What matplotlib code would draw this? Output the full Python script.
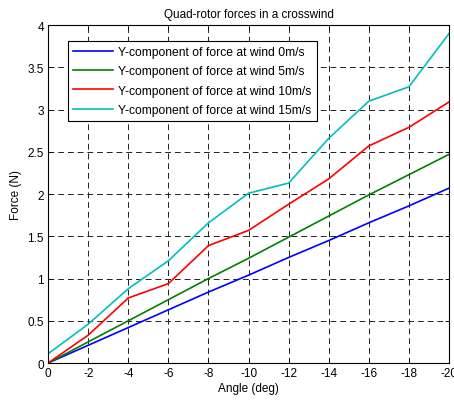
import matplotlib
matplotlib.use('Agg')
import matplotlib.pyplot as plt

plt.rcParams['font.family'] = ['Liberation Sans', 'DejaVu Sans']
plt.rcParams['font.size'] = 8.5

angles = [0, -2, -4, -6, -8, -10, -12, -14, -16, -18, -20]
force_0 = [0, 0.21, 0.42, 0.63, 0.84, 1.04, 1.25, 1.45, 1.66, 1.86, 2.07]
force_5 = [0, 0.25, 0.50, 0.75, 1.00, 1.24, 1.49, 1.74, 1.99, 2.23, 2.47]
force_10 = [0, 0.33, 0.77, 0.94, 1.39, 1.57, 1.88, 2.18, 2.57, 2.79, 3.09]
force_15 = [0.11, 0.46, 0.88, 1.21, 1.66, 2.01, 2.13, 2.66, 3.10, 3.27, 3.90]

labels = ['Y-component of force at wind 0m/s',
          'Y-component of force at wind 5m/s',
          'Y-component of force at wind 10m/s',
          'Y-component of force at wind 15m/s']
colors = ['#0000ff', '#008000', '#ff0000', '#00bfbf']

fig = plt.figure(figsize=(4.54, 4.02), dpi=100)
ax = fig.add_axes([0.106, 0.0945, 0.883, 0.8405])

for y, lab, c in zip([force_0, force_5, force_10, force_15], labels, colors):
    ax.plot(angles, y, color=c, lw=1.2, label=lab)

ax.set_xlim(0, -20)
ax.set_ylim(0, 4)
ax.set_xticks(angles)
ax.set_xticklabels([str(a) for a in angles])
ax.set_yticks([0, 0.5, 1, 1.5, 2, 2.5, 3, 3.5, 4])
ax.set_yticklabels(['0', '0.5', '1', '1.5', '2', '2.5', '3', '3.5', '4'])
ax.grid(True, color='#222222', linestyle=(0, (6, 4)), lw=0.7)
ax.tick_params(direction='in', top=True, right=True, length=3, width=0.6, pad=3)
for s in ax.spines.values():
    s.set_linewidth(0.8)

ax.set_xlabel('Angle (deg)', labelpad=2)
ax.set_ylabel('Force (N)', labelpad=4)
ax.set_title('Quad-rotor forces in a crosswind', fontsize=8.5, pad=6)

leg = ax.legend(loc='upper left', bbox_to_anchor=(0.035, 0.97), fancybox=False,
                edgecolor='black', framealpha=1, borderpad=0.4, labelspacing=0.6,
                handlelength=3.3, handletextpad=0.45, fontsize=8.7)
leg.get_frame().set_linewidth(0.8)

fig.savefig('out.png', dpi=100)
